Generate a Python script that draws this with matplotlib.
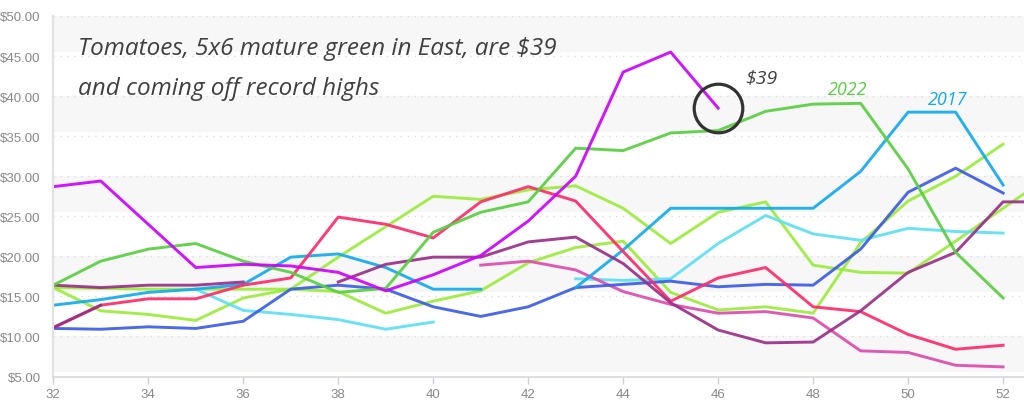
import numpy as np
import matplotlib
matplotlib.use("Agg")
import matplotlib.pyplot as plt

N = None
weeks = list(range(32, 54))
xtick_weeks = [32, 34, 36, 38, 40, 42, 44, 46, 48, 50, 52]
ytick_vals = [5, 10, 15, 20, 25, 30, 35, 40, 45, 50]

s_current = [28.7, 29.4, 24.0, 18.6, 19.0, 18.8, 18.0, 15.7, 17.7, 20.1, 24.4, 30.0, 43.0, 45.5, 38.5,
             N, N, N, N, N, N, N]
s_2022 = [16.4, 19.4, 20.9, 21.6, 19.4, 18.0, 15.5, 16.0, 23.0, 25.5, 26.8, 33.5, 33.2, 35.4, 35.7,
          38.1, 39.0, 39.1, 30.9, 20.5, 14.8, N]
s_2017 = [13.9, 14.6, 15.5, 15.9, 16.5, 19.9, 20.3, 18.6, 15.9, 15.9, N, 16.1, 20.8, 26.0, 26.0,
          26.0, 26.0, 30.6, 38.0, 38.0, 28.9, N]
s_cyan = [N, N, N, 15.9, 13.25, 12.75, 12.1, 10.9, 11.8, N, N, 17.2, 17.0, 17.2, 21.6,
          25.1, 22.8, 22.0, 23.5, 23.1, 22.9, N]
s_red = [11.1, 13.9, 14.7, 14.7, 16.4, 17.3, 24.9, 24.0, 22.3, 26.8, 28.7, 26.9, 20.6, 14.4, 17.3,
         18.6, 13.7, 13.1, 10.25, 8.4, 8.9, N]
s_royal = [11.0, 10.9, 11.2, 11.0, 11.9, 15.9, 16.4, 15.9, 13.7, 12.5, 13.7, 16.1, 16.5, 16.9, 16.2,
           16.5, 16.4, 20.9, 28.0, 31.0, 27.9, N]
s_plum_a = [16.4, 16.1, 16.4, 16.4, 16.8, N, N, N, N, N, N, N, N, N, N, N, N, N, N, N, N, N]
s_plum_b = [11.1, 13.9, N, N, N, N, 16.8, 19.0, 19.9, 19.9, 21.8, 22.4, 19.1, 14.2, 10.8,
            9.2, 9.3, 13.2, 18.0, 20.5, 26.8, 26.8]
s_pink = [N, N, N, N, N, N, N, N, N, 18.9, 19.4, 18.3, 15.6, 14.0, 12.9,
          13.1, 12.3, 8.2, 8.0, 6.4, 6.2, N]
s_lime_a = [16.1, 13.2, 12.75, 12.0, 14.8, 15.9, 19.9, 23.7, 27.5, 27.1, 28.3, 28.8, 26.0, 21.6, 25.5,
            26.8, 18.9, 18.0, 17.9, 21.9, 26.0, 30.1]
s_lime_b = [16.1, 16.0, 15.9, 15.9, 15.9, 15.9, 15.6, 12.9, 14.4, 15.7, 19.2, 21.1, 21.9, 15.5, 13.3,
            13.7, 12.9, 21.7, 26.9, 30.0, 34.0, N]

series = [
    (s_lime_b, "#9bec3c"),
    (s_lime_a, "#9bec3c"),
    (s_cyan, "#5de0f2"),
    (s_pink, "#dd4cae"),
    (s_royal, "#3b5ce8"),
    (s_2017, "#12aaef"),
    (s_red, "#ff2a6a"),
    (s_plum_a, "#9a2f88"),
    (s_plum_b, "#9a2f88"),
    (s_2022, "#58cf40"),
    (s_current, "#cc00ff"),
]

def arr(v):
    return np.array([np.nan if x is None else x for x in v], dtype=float)

fig = plt.figure(figsize=(10.24, 4.14), dpi=100)
ax = fig.add_axes([53.3 / 1024, 1 - 377.5 / 414, 1 - 53.3 / 1024, (377.5 - 17) / 414])
ax.set_xlim(32, 52.44)
ax.set_ylim(5, 50)

# background bands and dotted grid
for top in [50, 40, 30, 20, 10]:
    ax.axhspan(top - 4.5, top, color="#f7f7f7", zorder=0, lw=0)
for v in ytick_vals[1:]:
    ax.axhline(v, color="#dcdcdc", lw=1, ls=(0, (1, 4)), zorder=0.5)

wk = np.array(weeks, dtype=float)
for vals, col in series:
    ax.plot(wk, arr(vals), color=col, lw=2.1, alpha=0.92, solid_joinstyle="round", zorder=2)

# circle around the latest point
cur = arr(s_current)
last = np.where(~np.isnan(cur))[0][-1]
ax.plot([wk[last]], [cur[last]], marker="o", ms=35, mfc="none", mec="#333333", mew=2.3, zorder=3,
        clip_on=False)

# axes styling
for s in ["top", "right"]:
    ax.spines[s].set_visible(False)
ax.spines["left"].set_color("#e3e3e3")
ax.spines["left"].set_linewidth(1.6)
ax.spines["bottom"].set_color("#d8d8e0")
ax.spines["bottom"].set_linewidth(1.2)
ax.set_xticks(xtick_weeks)
ax.set_xticklabels([str(w) for w in xtick_weeks])
ax.set_yticks(ytick_vals)
ax.set_yticklabels([f"${v:.2f}" for v in ytick_vals])
ax.tick_params(axis="x", colors="#d0d0d8", length=5, width=1, labelcolor="#888888", labelsize=9.5, pad=3)
ax.tick_params(axis="y", length=0, labelcolor="#888888", labelsize=9.5, pad=9)
for lab in ax.get_xticklabels() + ax.get_yticklabels():
    lab.set_fontfamily("Liberation Sans")

hand = dict(family="Open Sans", style="italic", color="#404040")
fig.text(78 / 1024, 1 - 55 / 414, "Tomatoes, 5x6 mature green in East, are $39", fontsize=17.5, va="baseline", **hand)
fig.text(78 / 1024, 1 - 95 / 414, "and coming off record highs", fontsize=17.5, va="baseline", **hand)
fig.text(761 / 1024, 1 - 78 / 414, "$39", fontsize=14, ha="center", va="center", **hand)
fig.text(848 / 1024, 1 - 90 / 414, "2022", fontsize=13, ha="center", va="center",
         family="Open Sans", style="italic", color="#58cf40")
fig.text(948 / 1024, 1 - 100 / 414, "2017", fontsize=13, ha="center", va="center",
         family="Open Sans", style="italic", color="#12aaef")

fig.savefig("out.png", dpi=100)
